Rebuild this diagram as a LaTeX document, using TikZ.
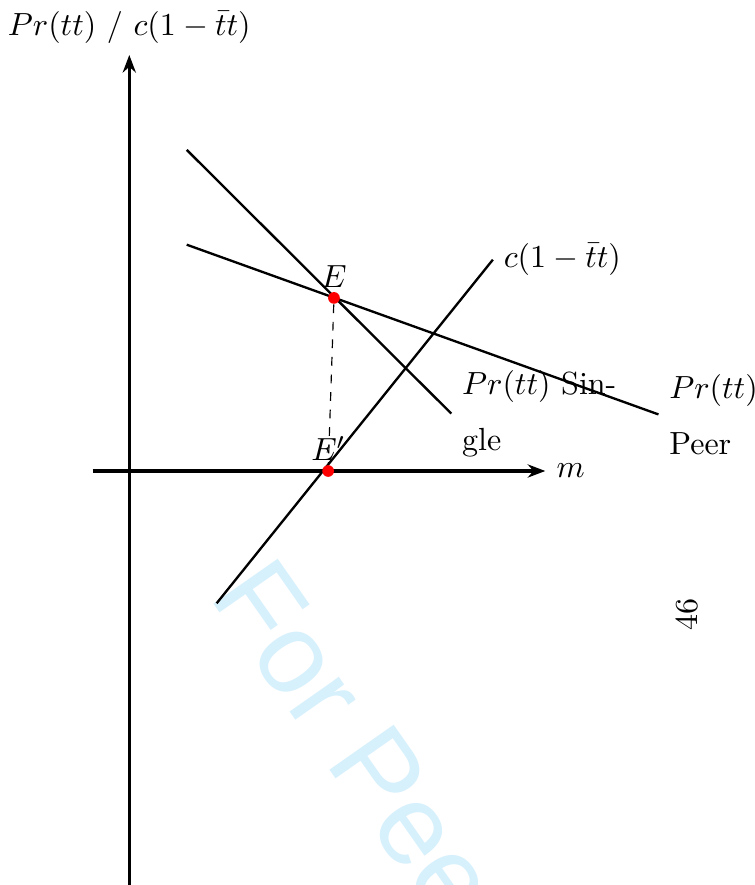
\documentclass[tikz,border=0pt]{standalone}
\usepackage{fontspec}
\newfontfamily\wmfont{Liberation Sans}
\usetikzlibrary{arrows.meta}
\definecolor{wmblue}{RGB}{214,240,252}

\begin{document}
\begin{tikzpicture}[
    font=\fontsize{10.95}{19}\selectfont,
    axis/.style={line width=1.1pt, -{Stealth[length=6pt, width=4.5pt]}},
    curve/.style={thick},
    eqpt/.style={circle, fill=red, inner sep=0pt, minimum size=4pt},
    lbl/.style={align=left},
    wm/.style={text=wmblue, font=\wmfont\fontsize{39}{47}\selectfont, rotate=-55, anchor=base west, inner sep=0pt},
  ]
  \useasboundingbox (-1.554,-4.976) rectangle (7.52,5.661);

  % Watermark behind everything
  \node[wm] (WM) at (0.95,-1.5) {For Peer Review};

  % Axes
  \draw[axis] (0,-5) -- (0,5) node[above] (ylab) {$Pr(tt)$ / $c(1-\bar{t}t)$};
  \draw[axis] (-0.44,0) -- (5,0) node[right] (xlab) {$m$};

  % Single, peer and cost lines
  \coordinate (S1) at (0.69,3.86);
  \coordinate (S2) at (3.87,0.69);
  \coordinate (P1) at (0.69,2.72);
  \coordinate (P2) at (6.36,0.68);
  \coordinate (C1) at (1.05,-1.59);
  \coordinate (C2) at (4.37,2.54);

  \draw[curve] (S1) -- (S2) node[right, lbl] (Slab) {$Pr(tt)$ Sin-\\gle};
  \draw[curve] (P1) -- (P2) node[right, lbl] (Plab) {$Pr(tt)$\\Peer};
  \draw[curve] (C1) -- (C2) node[right] (Clab) {$c(1-\bar{t}t)$};

  % Equilibria
  \node[eqpt] (E) at (2.46,2.08) {};
  \node[eqpt] (Ep) at (2.39,0) {};
  \draw[dashed] (E) -- (Ep);
  \node[above] (Elab) at (E.center) {$E$};
  \node[above] (Eplab) at (Ep.center) {$E'$};

  % Page number
  \node[rotate=90] (pg) at (6.70,-1.73) {46};
\end{tikzpicture}
\end{document}
